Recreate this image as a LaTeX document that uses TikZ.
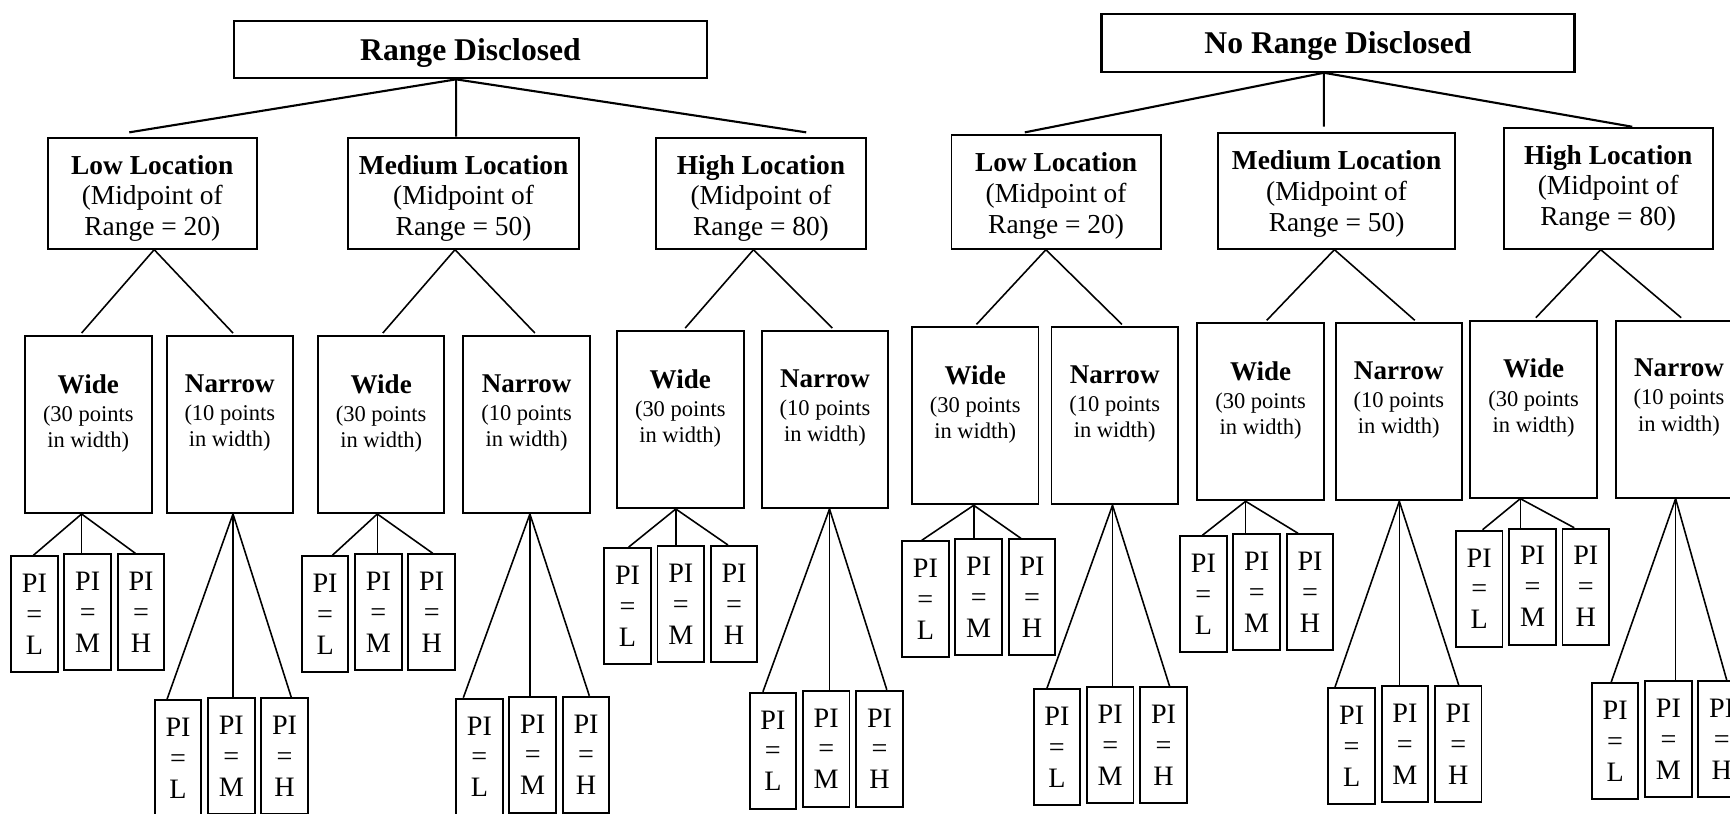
\documentclass[tikz,border=0pt]{standalone}
\usepackage{fontspec}
\setmainfont{Liberation Serif}

\begin{document}
\begin{tikzpicture}[x=1cm, y=-1cm,
  rootbox/.style={draw, line width=0.6pt, minimum width=4.73cm, minimum height=0.576cm, text depth=0pt, font=\fontsize{9}{10}\selectfont\bfseries},
  locbox/.style={draw, line width=0.55pt, inner sep=0pt},
  loctext/.style={anchor=north, yshift=-5pt, inner sep=0pt, align=center, font=\fontsize{7.8}{8.8}\selectfont},
  sizebox/.style={draw, line width=0.55pt, minimum width=1.265cm, minimum height=1.77cm, inner sep=0pt},
  sizetext/.style={anchor=north, yshift=-11pt, inner sep=0pt, align=center, font=\fontsize{6.4}{7.5}\selectfont},
  pibox/.style={draw, line width=0.55pt, minimum width=0.466cm, minimum height=1.16cm, inner sep=0pt, align=center, font=\fontsize{8}{8.8}\selectfont},
  link/.style={line width=0.45pt},
  toplink/.style={line width=0.6pt}]
\useasboundingbox (0,0) rectangle (17.30,8.13);
\clip (0,0) rectangle (17.30,8.13);

% the two treatments
\node[rootbox] (rd) at (4.705,0.495) {Range Disclosed};
\node[rootbox] (nrd) at (13.38,0.429) {No Range Disclosed};

% location of the range
\node[locbox, minimum width=2.092cm, minimum height=1.11cm, label={[loctext]north:{\textbf{Low Location}\\(Midpoint of\\Range = 20)}}] (llow) at (1.523,1.932) {};
\node[locbox, minimum width=2.314cm, minimum height=1.11cm, label={[loctext]north:{\textbf{Medium Location}\\(Midpoint of\\Range = 50)}}] (lmed) at (4.636,1.932) {};
\node[locbox, minimum width=2.092cm, minimum height=1.11cm, label={[loctext]north:{\textbf{High Location}\\(Midpoint of\\Range = 80)}}] (lhigh) at (7.61,1.932) {};
\node[locbox, minimum width=2.092cm, minimum height=1.137cm, label={[loctext]north:{\textbf{Low Location}\\(Midpoint of\\Range = 20)}}] (rlow) at (10.561,1.919) {};
\node[locbox, minimum width=2.374cm, minimum height=1.154cm, label={[loctext]north:{\textbf{Medium Location}\\(Midpoint of\\Range = 50)}}] (rmed) at (13.366,1.91) {};
\node[locbox, minimum width=2.092cm, minimum height=1.21cm, label={[loctext]north:{\textbf{High Location}\\(Midpoint of\\Range = 80)}}] (rhigh) at (16.082,1.882) {};

% width of the range
\foreach \name/\x/\y/\kind/\pts in {lw1/0.883/4.245/Wide/30, ln1/2.298/4.245/Narrow/10,
    lw2/3.812/4.245/Wide/30, ln2/5.266/4.245/Narrow/10, lw3/6.803/4.195/Wide/30, ln3/8.25/4.195/Narrow/10,
    rw1/9.752/4.158/Wide/30, rn1/11.147/4.158/Narrow/10, rw2/12.606/4.118/Wide/30, rn2/13.988/4.118/Narrow/10,
    rw3/15.336/4.092/Wide/30, rn3/16.79/4.092/Narrow/10} {
  \node[sizebox, label={[sizetext]north:{{\fontsize{7.7}{7.5}\selectfont\bfseries \kind}\\[0.5pt](\pts\ points\\in width)}}] (\name) at (\x,\y) {};
}

% PI boxes under each width
\foreach \s/\x/\y/\d/\ld/\hd in {lw1/0.877/5.543/-0.067/-0.011/-0.056, lw2/3.784/5.543/-0.039/0.072/0.011,
    lw3/6.808/5.46/-0.045/0.012/-0.061, ln1/2.313/6.983/0.032/-0.11/0.067, ln2/5.327/6.967/0.033/-0.161/0.033,
    ln3/8.262/6.907/0.045/-0.10/0.073, rw1/9.787/5.393/-0.015/-0.037/-0.111, rw2/12.567/5.343/-0.15/-0.011/-0.119,
    rw3/15.325/5.287/-0.133/0.033/-0.116, rn1/11.102/6.873/-0.022/-0.10/0.061, rn2/14.049/6.86/0.005/-0.166/0.005,
    rn3/16.684/6.81/-0.034/-0.039/0.05} {
  \node[pibox] (\s-l) at (\x-0.533,\y+0.6) {PI\\=\\L};
  \node[pibox] (\s-m) at (\x,\y+0.58) {PI\\=\\M};
  \node[pibox] (\s-h) at (\x+0.533,\y+0.58) {PI\\=\\H};
  \draw[link] ([xshift=\d cm]\s.south) -- ([xshift=\ld cm]\s-l.north);
  \draw[link] ([xshift=\d cm]\s.south) -- ([xshift=\d cm]\s.south |- \s-m.north);
  \draw[link] ([xshift=\d cm]\s.south) -- ([xshift=\hd cm]\s-h.north);
}

% location to width
\foreach \loc/\w/\n/\a/\wd/\nd in {llow/lw1/ln1/0.019/-0.067/0.032, lmed/lw2/ln2/-0.086/0.016/0.083,
    lhigh/lw3/ln3/-0.075/0.049/0.073, rlow/rw1/rn1/-0.102/0.013/0.072, rmed/rw2/rn2/-0.022/0.061/0.16,
    rhigh/rw3/rn3/-0.075/0.022/0.022} {
  \draw[link] ([xshift=\a cm]\loc.south) -- ([xshift=\wd cm, yshift=0.02cm]\w.north);
  \draw[link] ([xshift=\a cm]\loc.south) -- ([xshift=\nd cm, yshift=0.02cm]\n.north);
}

% treatment to location
\draw[toplink] ([xshift=-0.144cm]rd.south) -- ([xshift=-0.23cm, yshift=0.044cm]llow.north);
\draw[toplink] ([xshift=-0.144cm]rd.south) -- ([xshift=-0.075cm]lmed.north);
\draw[toplink] ([xshift=-0.144cm]rd.south) -- ([xshift=0.452cm, yshift=0.044cm]lhigh.north);
\draw[toplink] ([xshift=-0.141cm]nrd.south) -- ([xshift=-0.313cm, yshift=0.017cm]rlow.north);
\draw[toplink] ([xshift=-0.141cm]nrd.south) -- ([xshift=-0.127cm, yshift=0.056cm]rmed.north);
\draw[toplink] ([xshift=-0.141cm]nrd.south) -- ([xshift=0.24cm]rhigh.north);
\end{tikzpicture}
\end{document}
